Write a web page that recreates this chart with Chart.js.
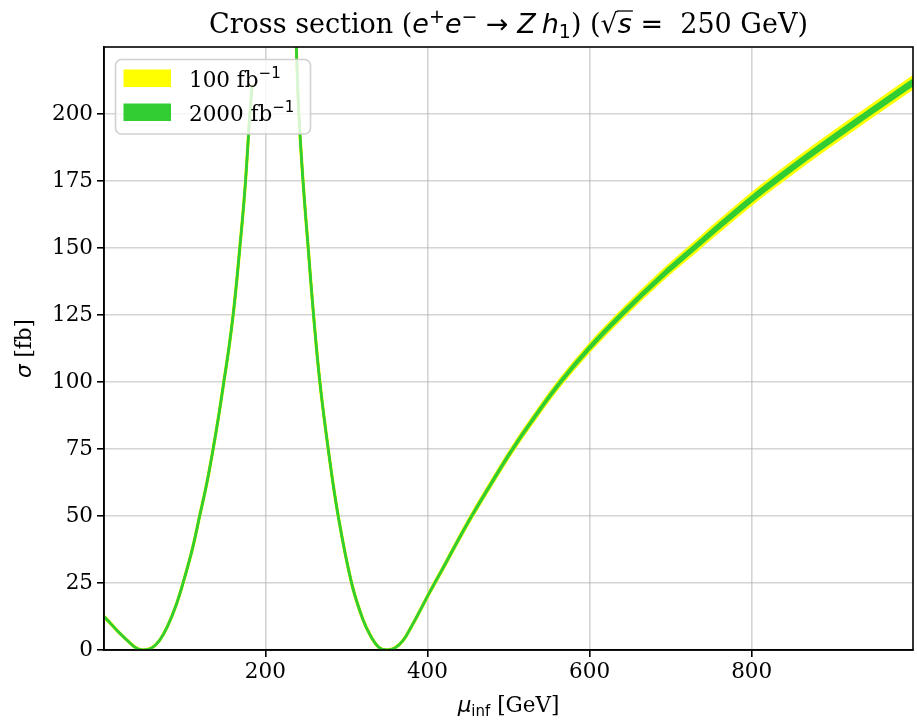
<!DOCTYPE html>
<html>
<head>
<meta charset="utf-8">
<script src="https://cdn.jsdelivr.net/npm/chart.js@4/dist/chart.umd.min.js"></script>
<style>
  html, body { margin: 0; padding: 0; background: #fff; }
  canvas { display: block; }
</style>
</head>
<body>
<canvas id="myChart" width="917" height="721"></canvas>
<script>
// mu_inf [GeV] and sigma [fb] (null = gap at the pole)
var mu    = [1, 10, 20, 30, 40, 49, 60, 70, 80, 90, 98.5, 110, 119, 128, 135.6, 142, 148.8, 155, 160.3, 164.5, 168.5, 172.3, 175.6, 178.3, 180.5, 183.5,
             210,
             238.2, 241.4, 246.5, 252.9, 259.5, 267.3, 277.6, 289.9, 306.4, 320, 330, 340, 349.6,
             360, 370, 380, 390, 400, 409, 420, 439, 454.6, 480, 504, 530, 563.6, 600, 639.8, 690, 730, 760, 800, 831, 880, 946, 999];
var sigma = [12.5, 9.6, 6.4, 3.5, 0.9, 0, 0.8, 3.8, 9.3, 16.8, 25, 37.7, 50, 62.5, 75, 86.5, 100, 112.5, 125, 137, 150, 162.5, 175, 187.5, 198, 210,
             null,
             225, 200, 175, 150, 125, 100, 75, 50, 25, 11.7, 5.2, 1.0, 0,
             0.8, 3.6, 8.6, 14.2, 20, 25, 31, 41.6, 50, 62.8, 74.5, 86, 99.8, 112.8, 125.3, 139.8, 150.3, 158.2, 168.3, 175.6, 186.6, 200.7, 211.8];
// half widths of the bands [fb]
var err100  = [0.2, 0.18, 0.15, 0.12, 0.1, 0.08, 0.1, 0.12, 0.15, 0.2, 0.25, 0.3, 0.35, 0.4, 0.45, 0.5, 0.55, 0.6, 0.65, 0.7, 0.75, 0.8, 0.85, 0.9, 0.95, 1.0,
               null,
               1.0, 0.95, 0.9, 0.8, 0.7, 0.6, 0.5, 0.4, 0.3, 0.25, 0.18, 0.12, 0.08,
               0.1, 0.15, 0.2, 0.25, 0.3, 0.35, 0.4, 0.5, 0.6, 0.7, 0.8, 0.9, 1.05, 1.2, 1.35, 1.55, 1.7, 1.8, 1.9, 1.95, 2.0, 2.05, 2.1];
var err2000 = [0.1, 0.08, 0.07, 0.06, 0.05, 0.04, 0.05, 0.06, 0.07, 0.1, 0.12, 0.14, 0.16, 0.18, 0.2, 0.22, 0.25, 0.27, 0.3, 0.32, 0.34, 0.36, 0.38, 0.4, 0.42, 0.45,
               null,
               0.45, 0.42, 0.4, 0.36, 0.32, 0.27, 0.22, 0.18, 0.14, 0.11, 0.08, 0.06, 0.04,
               0.05, 0.07, 0.09, 0.11, 0.14, 0.16, 0.18, 0.22, 0.27, 0.32, 0.36, 0.4, 0.45, 0.52, 0.58, 0.66, 0.72, 0.77, 0.82, 0.85, 0.88, 0.9, 0.93];

var xTicks = [200, 400, 600, 800];
var yTicks = [0, 25, 50, 75, 100, 125, 150, 175, 200];

var YELLOW = "#ffff00";
var GREEN = "#32cd32";
var SERIF = '"DejaVu Serif"';
var SANS = '"DejaVu Sans"';

function band(err, sign) {
  return mu.map(function (x, i) {
    return { x: x, y: sigma[i] === null ? null : sigma[i] + sign * err[i] };
  });
}

function drawRuns(ctx, runs, x, y, align) {
  var w = 0;
  runs.forEach(function (r) { ctx.font = r.f; r.w = ctx.measureText(r.t).width; w += r.w; });
  var cx = align === "center" ? x - w / 2 : x;
  ctx.textBaseline = "alphabetic";
  ctx.textAlign = "left";
  runs.forEach(function (r) {
    ctx.font = r.f;
    ctx.fillText(r.t, cx, y + (r.dy || 0));
    if (r.over) {
      ctx.save();
      ctx.lineWidth = 1.3;
      ctx.beginPath();
      ctx.moveTo(cx - 1, y - r.over);
      ctx.lineTo(cx + r.w + 1, y - r.over);
      ctx.stroke();
      ctx.restore();
    }
    cx += r.w;
  });
}

var decor = {
  id: "decor",
  afterDraw: function (chart) {
    var ctx = chart.ctx, a = chart.chartArea;
    ctx.save();
    ctx.fillStyle = "#000";
    ctx.strokeStyle = "#000";

    // title
    var S = "27px " + SERIF, MI = "italic 27px " + SANS, M = "27px " + SANS, SM = "19px " + SANS;
    drawRuns(ctx, [
      { t: "Cross section (", f: S },
      { t: "e", f: MI }, { t: "+", f: SM, dy: -10 },
      { t: "e", f: MI }, { t: "\u2212", f: SM, dy: -10 },
      { t: " \u2192 ", f: M },
      { t: "Z", f: MI }, { t: " ", f: SM },
      { t: "h", f: MI }, { t: "1", f: SM, dy: 5 },
      { t: ") (", f: S },
      { t: "\u221a", f: M },
      { t: "s", f: MI, over: 22 },
      { t: " = ", f: M },
      { t: " 250 GeV)", f: S }
    ], (a.left + a.right) / 2, 33, "center");

    // x label
    drawRuns(ctx, [
      { t: "\u03bc", f: "italic 21.5px " + SANS },
      { t: "inf", f: "15px " + SANS, dy: 4 },
      { t: " [GeV]", f: "21.5px " + SERIF }
    ], (a.left + a.right) / 2, 712, "center");

    // y label
    ctx.save();
    ctx.translate(31, (a.top + a.bottom) / 2);
    ctx.rotate(-Math.PI / 2);
    drawRuns(ctx, [
      { t: "\u03c3", f: "italic 21.5px " + SANS },
      { t: " [fb]", f: "21.5px " + SERIF }
    ], 0, 0, "center");
    ctx.restore();

    // legend
    ctx.save();
    ctx.fillStyle = "rgba(255,255,255,0.8)";
    ctx.strokeStyle = "rgba(204,204,204,0.9)";
    ctx.lineWidth = 1.6;
    ctx.beginPath();
    ctx.roundRect(115.5, 59.5, 195, 74.5, 6);
    ctx.fill();
    ctx.stroke();
    ctx.restore();
    ctx.fillStyle = YELLOW;
    ctx.fillRect(123.5, 69.5, 47.5, 17.5);
    ctx.fillStyle = GREEN;
    ctx.fillRect(123.5, 103.5, 47.5, 17.5);
    ctx.fillStyle = "#000";
    drawRuns(ctx, [{ t: "100 fb", f: "21.5px " + SERIF }, { t: "\u22121", f: "15px " + SANS, dy: -9 }], 189, 86.5, "left");
    drawRuns(ctx, [{ t: "2000 fb", f: "21.5px " + SERIF }, { t: "\u22121", f: "15px " + SANS, dy: -9 }], 189, 120.5, "left");

    // frame
    ctx.lineWidth = 1.6;
    ctx.strokeStyle = "#000";
    ctx.strokeRect(a.left, a.top, a.right - a.left, a.bottom - a.top);
    ctx.restore();
  }
};

var gridColor = "rgba(176,176,176,0.55)";
var tickFont = { family: "DejaVu Serif", size: 21.5 };

var ctx = document.getElementById("myChart");
var myChart = new Chart(ctx, {
  type: "line",
  data: {
    datasets: [
      { label: "2000 lo", data: band(err2000, -1), borderColor: GREEN, borderWidth: 2.5, fill: false },
      { label: "2000 fb\u207b\u00b9", data: band(err2000, 1), borderColor: GREEN, backgroundColor: GREEN, borderWidth: 2.5, fill: "-1" },
      { label: "100 lo", data: band(err100, -1), borderColor: YELLOW, borderWidth: 3, fill: false },
      { label: "100 fb\u207b\u00b9", data: band(err100, 1), borderColor: YELLOW, backgroundColor: YELLOW, borderWidth: 3, fill: "-1" }
    ]
  },
  options: {
    responsive: false,
    animation: false,
    devicePixelRatio: 1,
    layout: { padding: { top: 47, right: 4, left: 0, bottom: 0 } },
    elements: { point: { radius: 0 }, line: { tension: 0.4 } },
    plugins: { legend: { display: false }, tooltip: { enabled: false }, title: { display: false } },
    scales: {
      x: {
        type: "linear", min: 1, max: 999,
        afterBuildTicks: function (s) { s.ticks = xTicks.map(function (v) { return { value: v }; }); },
        afterFit: function (s) { s.height = 71; },
        grid: { color: gridColor, lineWidth: 1.6, tickLength: 7, tickColor: "#000", tickWidth: 1.6 },
        border: { color: "#000", width: 1.6 },
        ticks: { font: tickFont, color: "#000", padding: 3, maxRotation: 0, autoSkip: false }
      },
      y: {
        type: "linear", min: 0, max: 225,
        afterBuildTicks: function (s) { s.ticks = yTicks.map(function (v) { return { value: v }; }); },
        afterFit: function (s) { s.width = 104; },
        grid: { color: gridColor, lineWidth: 1.6, tickLength: 7, tickColor: "#000", tickWidth: 1.6 },
        border: { color: "#000", width: 1.6 },
        ticks: { font: tickFont, color: "#000", padding: 4, autoSkip: false }
      }
    }
  },
  plugins: [decor]
});
</script>
</body>
</html>
